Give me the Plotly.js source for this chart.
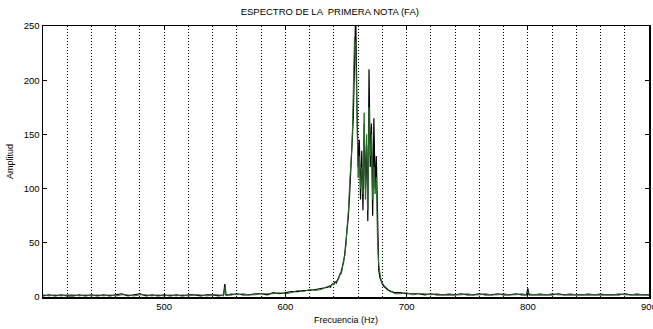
<!DOCTYPE html>
<html>
<head>
<meta charset="utf-8">
<script src="https://cdn.plot.ly/plotly-3.0.1.min.js"></script>
<style>html,body{margin:0;padding:0;background:#fff;}#chart{width:653px;height:329px;}</style>
</head>
<body>
<div id="chart"></div>
<script>
// Frequency samples (Hz)
const freqs = [400,405,410,415,420,425,430,435,440,445,450,455,460,465,470,475,480,485,490,495,500,505,510,515,520,525,530,535,540,545,549,550,551,555,560,565,570,575,580,585,590,595,600,605,610,615,620,625,630,635,636,637,638,639,640,641,642,643,644,645,646,647,648,649,650,651,652,653,654,655,656,657,658,659,660,661,662,663,664,665,666,667,668,669,670,671,672,673,674,675,676,677,678,679,680,681,682,683,684,685,686,687,688,689,690,695,700,705,710,715,720,725,730,735,740,745,750,755,760,765,770,775,780,785,790,795,799,800,801,805,810,815,820,825,830,835,840,845,850,855,860,865,870,875,880,885,890,895,900];
// Amplitude, black series
const ampBlack = [1,2,1,2,1,1,2,1,2,1,2,1,2,3,1,2,3,1,2,1,2,1,2,1,2,2,1,2,2,1,2,12,2,2,3,2,2,3,3,2,4,3,4,5,5,6,6,7,8,9,10,9,11,12,12,14,13,16,18,20,23,28,32,40,52,60,75,95,120,150,165,215,262,180,120,145,90,135,80,160,100,140,70,210,120,160,75,165,100,130,60,25,18,14,12,10,9,8,7,6,6,5,5,4,4,4,3,3,3,2,3,2,2,2,2,3,2,2,3,2,2,3,2,2,3,2,2,8,2,2,2,2,2,3,2,2,2,2,2,2,2,2,2,2,3,2,2,2,2];
// Amplitude, green series
const ampGreen = [2,1,2,1,2,2,1,2,1,2,1,2,1,2,2,1,2,2,1,2,1,2,1,2,1,2,2,1,2,2,1,9,1,3,2,3,2,2,3,3,3,4,3,4,6,5,7,6,7,10,9,11,10,13,11,13,15,15,17,22,21,26,35,38,48,66,80,105,130,140,190,240,230,150,110,130,100,120,95,170,90,150,80,175,130,150,90,120,95,110,50,30,20,15,13,11,10,9,8,7,5,6,4,5,3,3,4,2,3,3,2,3,2,3,2,2,3,2,2,3,2,2,3,2,2,3,2,5,3,2,3,2,3,2,2,3,2,2,3,2,3,2,2,3,2,2,3,2,2];

const xTickVals = [500,600,700,800,900];
const yTickVals = [0,50,100,150,200,250];

const traces = [
  {x: freqs, y: ampBlack, type: 'scatter', mode: 'lines', line: {color: '#000000', width: 1.2}, hoverinfo: 'skip'},
  {x: freqs, y: ampGreen, type: 'scatter', mode: 'lines', line: {color: '#2a6e2a', width: 1}, hoverinfo: 'skip'}
];

const layout = {
  width: 653, height: 329,
  margin: {l: 43, r: 4, t: 26, b: 32},
  paper_bgcolor: '#ffffff', plot_bgcolor: '#ffffff',
  showlegend: false,
  font: {family: 'Liberation Sans, Arial, sans-serif', size: 9, color: '#000'},
  title: {text: 'ESPECTRO DE LA  PRIMERA NOTA (FA)', x: 0.505, xanchor: 'center', y: 0.965, yanchor: 'middle', font: {size: 9.5, color: '#000'}},
  xaxis: {
    range: [400, 900], tickmode: 'array', tickvals: xTickVals, ticktext: xTickVals.map(String),
    ticks: 'inside', ticklen: 4, tickcolor: '#000', showline: true, linecolor: '#000', linewidth: 1.5, mirror: 'ticks',
    showgrid: true, gridcolor: '#000', griddash: '1px,2px', gridwidth: 1,
    minor: {dtick: 20, tick0: 400, showgrid: true, gridcolor: '#000', griddash: '1px,2px', gridwidth: 1, ticks: ''},
    zeroline: false, tickfont: {size: 9.5}, ticklabeloverflow: 'allow',
    title: {text: 'Frecuencia (Hz)', font: {size: 9}, standoff: 6}
  },
  yaxis: {
    range: [0, 250], tickmode: 'array', tickvals: yTickVals, ticktext: yTickVals.map(String),
    ticks: 'inside', ticklen: 4, tickcolor: '#000', showline: true, linecolor: '#000', linewidth: 1.5, mirror: 'ticks',
    showgrid: false, zeroline: false, tickfont: {size: 9.5},
    title: {text: 'Amplitud', font: {size: 9}, standoff: 8}
  }
};

Plotly.newPlot('chart', traces, layout, {staticPlot: true, displayModeBar: false});
</script>
</body>
</html>
